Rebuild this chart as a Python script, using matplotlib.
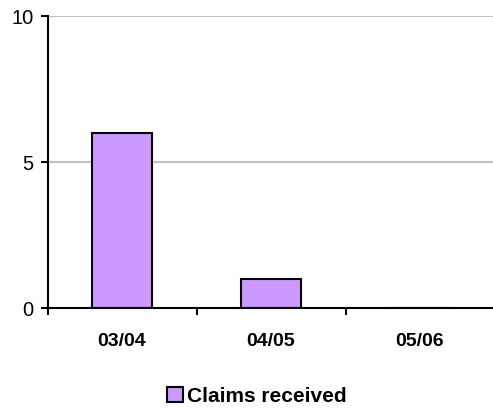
import matplotlib.pyplot as plt
from matplotlib.patches import Patch

categories = ["03/04", "04/05", "05/06"]
claims = [6, 1, 0]
yticks = [0, 5, 10]

fig = plt.figure(figsize=(4.93, 4.09), dpi=100)
ax = fig.add_axes([47.5 / 493, 101 / 409, 447 / 493, 292 / 409])

pos = [i + 0.5 for i in range(len(categories))]
ax.bar(pos, claims, width=0.4, color="#CC99FF", edgecolor="black", linewidth=1.5, zorder=3)

ax.set_xlim(0, 3)
ax.set_ylim(0, 10)
ax.set_yticks(yticks)
ax.set_yticklabels([str(v) for v in yticks], fontsize=14.5, family="Liberation Sans")
ax.yaxis.grid(True, color="#C0C0C0", linewidth=1.5, zorder=0)
ax.set_axisbelow(True)

ax.set_xticks([0, 1, 2, 3])
ax.set_xticklabels([])
ax.set_xticks(pos, minor=True)
ax.set_xticklabels(categories, minor=True, fontsize=14, fontweight="bold", family="Liberation Sans")
ax.tick_params(axis="x", which="minor", length=0, pad=18)
ax.tick_params(axis="x", which="major", direction="out", length=5, width=1.5, top=False)
ax.tick_params(axis="y", direction="out", length=5, width=1.5, pad=5)

for s in ["top", "right"]:
    ax.spines[s].set_visible(False)
for s in ["left", "bottom"]:
    ax.spines[s].set_linewidth(1.5)
    ax.spines[s].set_zorder(4)

handle = Patch(facecolor="#CC99FF", edgecolor="black", linewidth=1.5, label="Claims received")
fig.legend(handles=[handle], loc="center", bbox_to_anchor=(257 / 493, 1 - 396 / 409), frameon=False,
           prop={"family": "Liberation Sans", "weight": "bold", "size": 15},
           handlelength=0.75, handleheight=0.75, handletextpad=0.2, borderpad=0)

fig.savefig("out.png", dpi=100)
